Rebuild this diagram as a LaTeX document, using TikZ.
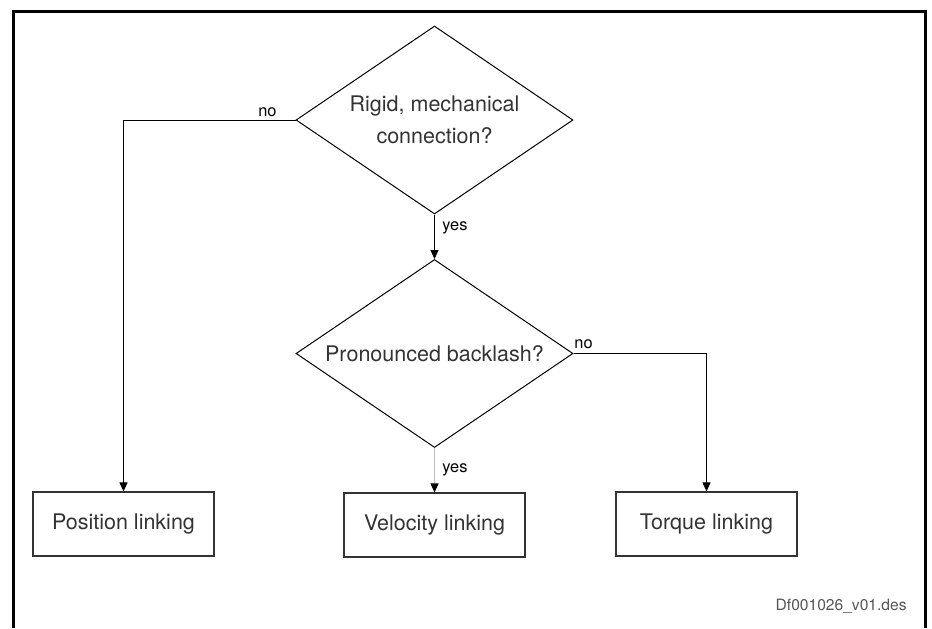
\documentclass[tikz,border=0pt]{standalone}
\usepackage{fontspec}
\setmainfont{TeX Gyre Heros}
\usetikzlibrary{shapes.geometric,arrows.meta}
\definecolor{txt}{HTML}{333333}
\definecolor{foot}{HTML}{555555}
\begin{document}
\begin{tikzpicture}[x=0.5pt,y=-0.5pt,
  every node/.style={font=\fontsize{10.75pt}{16pt}\selectfont, text=txt},
  dec/.style={draw=black, line width=0.5pt, diamond, aspect=1.47, minimum width=138.5pt, minimum height=94pt, inner sep=0pt, align=center},
  outbox/.style={draw=txt, line width=0.6pt, minimum width=90.5pt, minimum height=32pt, inner sep=0pt},
  lbl/.style={font=\fontsize{8.2pt}{10pt}\selectfont, text=black, inner sep=0pt},
  conn/.style={line width=0.5pt, -{Triangle[width=4pt,length=4.5pt,black]}},
]
\useasboundingbox (0,0) rectangle (932,628);
\draw[line width=1.5pt] (13.5,628) -- (13.5,11.5) -- (925,11.5) -- (925,628);

\node[dec] (d1) at (434.5,120) {Rigid, mechanical\\connection?};
\node[dec] (d2) at (434.5,353.5) {Pronounced backlash?};
\node[outbox] (pos) at (123.5,524) {Position linking};
\node[outbox] (vel) at (434.5,525) {Velocity linking};
\node[outbox] (tor) at (706.5,524) {Torque linking};

\draw[conn] (d1.south) -- (d2.north);
\draw[conn, draw=gray!50] (d2.south) -- (vel.north);
\draw[conn] (d1.west) -| (pos.north);
\draw[conn] (d2.east) -| (tor.north);

\node[lbl, anchor=base east] (no1) at (277,116) {no};
\node[lbl, anchor=base west] (yes1) at (442,230) {yes};
\node[lbl, anchor=base west] (no2) at (574,348) {no};
\node[lbl, anchor=base west] (yes2) at (442,472) {yes};
\node[font=\fontsize{7.8pt}{9pt}\selectfont, text=foot, anchor=base east, inner sep=0pt] (foot) at (907,610) {Df001026\_v01.des};
\end{tikzpicture}
\end{document}
